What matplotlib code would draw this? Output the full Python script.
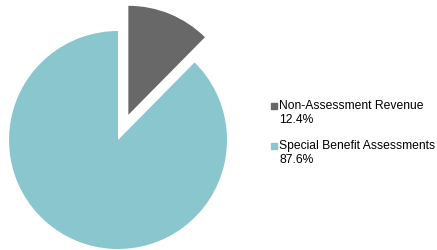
import matplotlib.pyplot as plt
from matplotlib.patches import Rectangle

plt.rcParams['font.family'] = ['Liberation Sans', 'DejaVu Sans']

labels = ['Non-Assessment Revenue', 'Special Benefit Assessments']
shares = [12.4, 87.6]
colors = ['#686868', '#8ac6ce']
explode = [0.25, 0]

W, H = 437, 250
fig = plt.figure(figsize=(W / 100, H / 100), dpi=100)

# pie centre at pixel (118, 140 from top), radius 109 px
cx, cy, r = 118, H - 140, 109
ax = fig.add_axes([0, 0, 236 / W, 1])
ax.pie(shares, colors=colors, explode=explode, startangle=90,
       counterclock=False, radius=1,
       wedgeprops=dict(linewidth=0))
ax.set_xlim(-cx / r, (236 - cx) / r)
ax.set_ylim(-cy / r, (H - cy) / r)
ax.set_aspect('auto')
ax.axis('off')

# legend drawn by hand: marker beside the name, percentage on the next line
ys = [106, 146]
for lab, val, col, y in zip(labels, shares, colors, ys):
    fig.patches.append(Rectangle((271 / W, 1 - (y + 3) / H), 6 / W, 6 / H,
                                 transform=fig.transFigure, color=col))
    fig.text(279 / W, 1 - y / H, lab, fontsize=8.7, va='center', ha='left')
    fig.text(279 / W, 1 - (y + 14) / H, f'{val:.1f}%', fontsize=8.7,
             va='center', ha='left')

fig.savefig('out.png', dpi=100)
